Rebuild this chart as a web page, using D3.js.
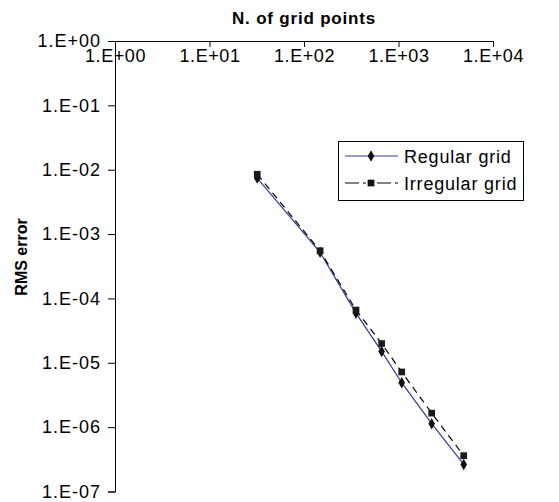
<!DOCTYPE html>
<html>
<head>
<meta charset="utf-8">
<script src="https://cdn.jsdelivr.net/npm/d3@7"></script>
<style>
  body { margin: 0; background: #fff; }
  text { font-family: "Liberation Sans", Arial, sans-serif; fill: #000; }
</style>
</head>
<body>
<div id="chart"></div>
<script>
// data
const gridPoints = [32, 148, 355, 663, 1081, 2245, 4900];
const regularErr = [7.4e-3, 5.2e-4, 5.9e-5, 1.5e-5, 4.9e-6, 1.13e-6, 2.63e-7];
const irregularErr = [8.5e-3, 5.5e-4, 6.6e-5, 1.99e-5, 7.2e-6, 1.65e-6, 3.6e-7];
const xTicks = [1, 10, 100, 1000, 10000];
const yTicks = [1, 1e-1, 1e-2, 1e-3, 1e-4, 1e-5, 1e-6, 1e-7];
const seriesNames = ["Regular grid", "Irregular grid"];

const W = 559, H = 502;
const svg = d3.select("#chart").append("svg")
    .attr("width", W)
    .attr("height", H);

const x = d3.scaleLog().domain([1, 1e4]).range([115, 493]);
const y = d3.scaleLog().domain([1e-7, 1]).range([491.5, 41]);

const fmt = v => "1.E" + (Math.log10(v) < 0 ? "-" : "+") + String(Math.abs(Math.round(Math.log10(v)))).padStart(2, "0");

// top axis (ticks point into the plot)
const xAxis = svg.append("g")
    .attr("transform", `translate(0,${y(1)})`)
    .call(d3.axisBottom(x).tickValues(xTicks).tickFormat(fmt).tickSizeOuter(0).tickSize(6).tickPadding(2));
xAxis.select(".domain").attr("stroke", "#000");
xAxis.selectAll("text").style("font-size", "18px").style("letter-spacing", "0.6px");

// left axis
const yAxis = svg.append("g")
    .attr("transform", `translate(${x(1)},0)`)
    .call(d3.axisLeft(y).tickValues(yTicks).tickFormat(fmt).tickSizeOuter(0).tickSize(7).tickPadding(7));
yAxis.selectAll("text").style("font-size", "18px").style("letter-spacing", "1px");
xAxis.raise();

// axis titles
svg.append("text")
    .attr("x", 304).attr("y", 24)
    .attr("text-anchor", "middle")
    .style("font-size", "17px").style("font-weight", "bold").style("letter-spacing", "0.8px")
    .text("N. of grid points");

svg.append("text")
    .attr("transform", `translate(27,${257}) rotate(-90)`)
    .attr("text-anchor", "middle")
    .style("font-size", "16px").style("font-weight", "bold")
    .text("RMS error");

const line = d3.line().x(d => x(d[0])).y(d => y(d[1]));
const regData = gridPoints.map((g, i) => [g, regularErr[i]]);
const irrData = gridPoints.map((g, i) => [g, irregularErr[i]]);

const blue = "#2f3d9c";

svg.append("path").datum(regData)
    .attr("fill", "none").attr("stroke", blue).attr("stroke-width", 1.2)
    .attr("d", line);
svg.append("path").datum(irrData)
    .attr("fill", "none").attr("stroke", "#000").attr("stroke-width", 1.2)
    .attr("stroke-dasharray", "7,5")
    .attr("d", line);

const square = d3.symbol().type(d3.symbolSquare).size(45);

svg.selectAll(".reg").data(regData).enter().append("path")
    .attr("class", "reg")
    .attr("transform", d => `translate(${x(d[0])},${y(d[1])})`)
    .attr("d", d3.symbol().type(d3.symbolDiamond).size(38))
    .attr("fill", "#111");
svg.selectAll(".irr").data(irrData).enter().append("path")
    .attr("class", "irr")
    .attr("transform", d => `translate(${x(d[0])},${y(d[1])})`)
    .attr("d", square)
    .attr("fill", "#1a1a1a");

// legend
const lg = svg.append("g");
lg.append("rect")
    .attr("x", 338.5).attr("y", 141.5).attr("width", 185).attr("height", 59)
    .attr("fill", "#fff").attr("stroke", "#000").attr("stroke-width", 1);
const rows = [
  { name: seriesNames[0], color: blue, dash: null, sym: d3.symbolDiamond, size: 38 },
  { name: seriesNames[1], color: "#000", dash: "14,4,3,4,3,4", sym: d3.symbolSquare, size: 45 }
];
rows.forEach((r, i) => {
  const yy = 156 + i * 27;
  lg.append("line")
      .attr("x1", 345).attr("x2", 398).attr("y1", yy).attr("y2", yy)
      .attr("stroke", r.color).attr("stroke-width", 1.2)
      .attr("stroke-dasharray", r.dash);
  lg.append("path")
      .attr("transform", `translate(371,${yy})`)
      .attr("d", d3.symbol().type(r.sym).size(r.size))
      .attr("fill", "#111");
  lg.append("text")
      .attr("x", 404).attr("y", yy + 6.5)
      .style("font-size", "18px").style("letter-spacing", "0.8px")
      .text(r.name);
});
</script>
</body>
</html>
